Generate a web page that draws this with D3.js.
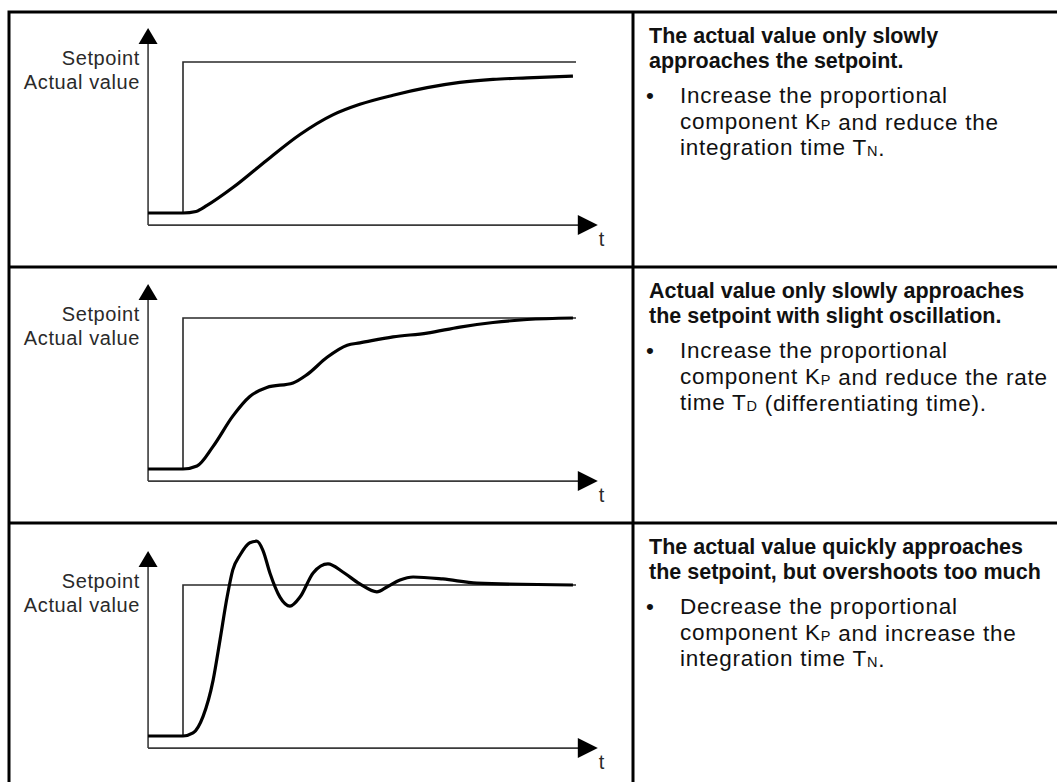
<!DOCTYPE html>
<meta charset="utf-8">
<style>
body { margin: 0; background: #fff; }
svg text { font-family: "Liberation Sans", Arial, sans-serif; fill: #111; }
.label { font-size: 20px; letter-spacing: 0.6px; fill: #2a2a2a; }
.title { font-size: 21.5px; font-weight: bold; }
.body { font-size: 22.5px; letter-spacing: 0.75px; }
.axis { stroke: #3a3a3a; stroke-width: 1.6; fill: none; }
.setpoint { stroke: #2a2a2a; stroke-width: 1.6; fill: none; }
.actual { stroke: #000; stroke-width: 3.2; fill: none; stroke-linejoin: round; }
.grid { stroke: #000; stroke-width: 3; fill: none; }
</style>
<body>
<script src="https://d3js.org/d3.v7.min.js"></script>
<script>
var width = 1057,
    height = 782;

// response curves, [time, value]; value 0 = start level, 1 = setpoint
var responseSlow = [[-0.8, 0], [0, 0], [0.3, 0.01], [0.55, 0.05], [1.15, 0.17], [1.92, 0.35], [2.68, 0.52],
    [3.43, 0.65], [4.05, 0.72], [4.81, 0.78], [5.59, 0.83], [6.34, 0.865], [7.1, 0.885], [7.88, 0.895], [8.93, 0.907]];
var responseWavy = [[-0.8, 0], [0, 0], [0.32, 0.02], [0.69, 0.15], [1.14, 0.35], [1.53, 0.48], [1.92, 0.54],
    [2.52, 0.57], [2.84, 0.625], [3.3, 0.74], [3.76, 0.82], [4.05, 0.835], [4.81, 0.875], [5.59, 0.9],
    [6.34, 0.94], [7.1, 0.97], [7.88, 0.99], [8.93, 1.0]];
var responseOvershoot = [[-0.8, 0], [0, 0], [0.23, 0.02], [0.46, 0.13], [0.69, 0.37], [0.85, 0.64], [1.01, 0.92],
    [1.14, 1.1], [1.31, 1.2], [1.53, 1.28], [1.69, 1.29], [1.83, 1.23], [1.99, 1.08], [2.22, 0.92], [2.45, 0.86],
    [2.68, 0.92], [2.98, 1.08], [3.32, 1.14], [3.66, 1.086], [4.05, 1.007], [4.44, 0.955], [4.67, 0.987],
    [4.97, 1.033], [5.27, 1.053], [5.95, 1.04], [6.73, 1.013], [8.93, 1.0]];
var setpointStep = [[0, 0], [0, 1], [9, 1]];

var titles = [
    ["The actual value only slowly", "approaches the setpoint."],
    ["Actual value only slowly approaches", "the setpoint with slight oscillation."],
    ["The actual value quickly approaches", "the setpoint, but overshoots too much"]
];
var hints = [
    ["Increase the proportional", "component K{P} and reduce the", "integration time T{N}."],
    ["Increase the proportional", "component K{P} and reduce the rate", "time T{D} (differentiating time)."],
    ["Decrease the proportional", "component K{P} and increase the", "integration time T{N}."]
];
var responses = [responseSlow, responseWavy, responseOvershoot];

var rowTops = [12, 267, 523];
var chartShift = [0, 1, 12];

var svg = d3.select("body").append("svg")
    .attr("width", width)
    .attr("height", height);

svg.append("rect").attr("width", width).attr("height", height).attr("fill", "#fff");

var x = d3.scaleLinear()
    .domain([0, 9])
    .range([183, 576]);

rowTops.forEach(function(top, i) {
    var base = top + chartShift[i];
    var y = d3.scaleLinear()
        .domain([0, 1])
        .range([base + 201, base + 50]);
    var g = svg.append("g");

    var line = d3.line()
        .x(function(d) { return x(d[0]); })
        .y(function(d) { return y(d[1]); });

    // axes with arrow heads
    var x0 = x(-0.8), y0 = y(-0.08), xTip = x(9.5), yTip = y(1.225);
    g.append("line").attr("class", "axis")
        .attr("x1", x0).attr("y1", y0).attr("x2", x0).attr("y2", yTip + 10);
    g.append("line").attr("class", "axis")
        .attr("x1", x0).attr("y1", y0).attr("x2", xTip - 10).attr("y2", y0);
    g.append("path")
        .attr("d", "M" + x0 + "," + yTip + "L" + (x0 - 9.5) + "," + (yTip + 16) + "L" + (x0 + 9.5) + "," + (yTip + 16) + "Z")
        .attr("fill", "#000");
    g.append("path")
        .attr("d", "M" + xTip + "," + y0 + "L" + (xTip - 20) + "," + (y0 - 10) + "L" + (xTip - 20) + "," + (y0 + 10) + "Z")
        .attr("fill", "#000");
    g.append("text").attr("class", "label")
        .attr("x", xTip + 1).attr("y", y0 + 21).text("t");

    g.append("text").attr("class", "label")
        .attr("x", 140).attr("y", base + 53)
        .attr("text-anchor", "end").text("Setpoint");
    g.append("text").attr("class", "label")
        .attr("x", 140).attr("y", base + 77)
        .attr("text-anchor", "end").text("Actual value");

    g.append("path").attr("class", "setpoint")
        .attr("d", line(setpointStep));

    g.append("path").attr("class", "actual")
        .attr("d", line.curve(d3.curveMonotoneX)(responses[i]));

    // right column text
    var tx = 649;
    titles[i].forEach(function(t, k) {
        svg.append("text").attr("class", "title")
            .attr("x", tx).attr("y", top + 31 + k * 25).text(t);
    });
    svg.append("text").attr("class", "body")
        .attr("x", 646).attr("y", top + 91).text("\u2022");
    hints[i].forEach(function(t, k) {
        var el = svg.append("text").attr("class", "body")
            .attr("x", 680).attr("y", top + 91 + k * 26);
        t.split(/\{(\w)\}/).forEach(function(part, j) {
            if (!part) return;
            if (j % 2) {
                el.append("tspan").attr("font-size", "14.5px").attr("dy", 1).text(part);
                el.append("tspan").attr("dy", -1).text("");
            } else {
                el.append("tspan").text(part);
            }
        });
    });
});

// table lines
svg.append("rect").attr("class", "grid")
    .attr("x", 9).attr("y", 12).attr("width", 1060).attr("height", 790);
svg.append("line").attr("class", "grid")
    .attr("x1", 633).attr("y1", 12).attr("x2", 633).attr("y2", height);
rowTops.slice(1).forEach(function(t) {
    svg.append("line").attr("class", "grid")
        .attr("x1", 9).attr("y1", t).attr("x2", width).attr("y2", t);
});
</script>
</body>
